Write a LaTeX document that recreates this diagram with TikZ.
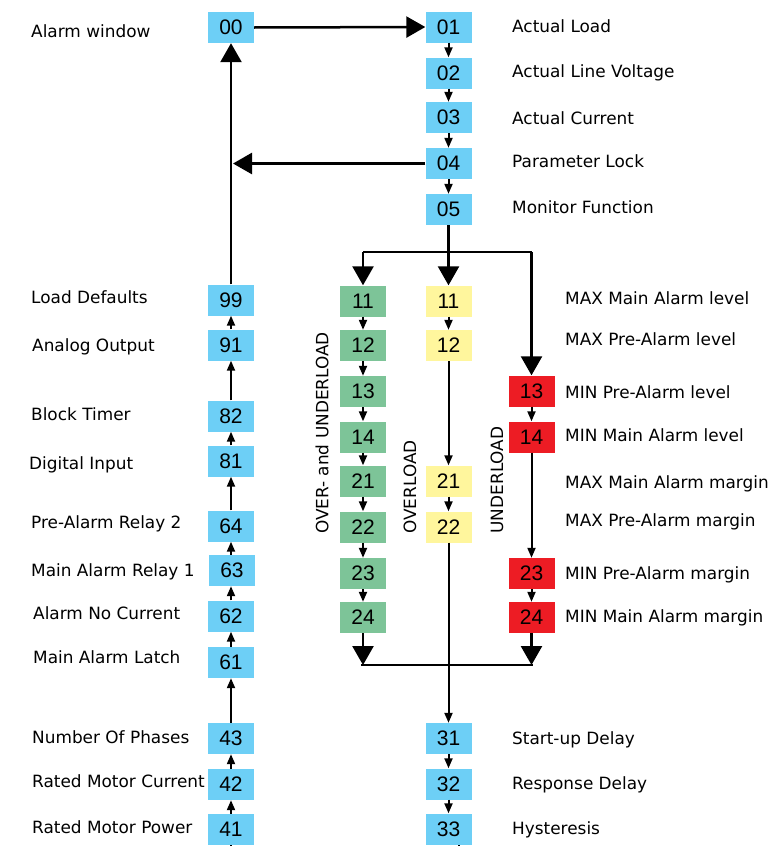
\documentclass[tikz,border=0pt]{standalone}
\usepackage{fontspec}
\setmainfont{DejaVu Sans}
\newfontfamily\numfont{Liberation Sans}
\usetikzlibrary{arrows.meta}
\definecolor{boxblue}{RGB}{109,207,246}
\definecolor{boxgreen}{RGB}{125,196,152}
\definecolor{boxyellow}{RGB}{255,246,157}
\definecolor{boxred}{RGB}{237,28,36}
\begin{document}
\begin{tikzpicture}[x=1pt,y=-1pt,
  box/.style={minimum width=46pt, minimum height=31pt, inner sep=0pt, font=\numfont\fontsize{21}{22}\selectfont},
  bb/.style={box, fill=boxblue},
  gb/.style={box, fill=boxgreen},
  yb/.style={box, fill=boxyellow},
  rb/.style={box, fill=boxred},
  lbl/.style={anchor=base west, inner sep=0pt, font=\fontsize{16.9}{20}\selectfont},
  vlbl/.style={rotate=90, inner sep=0pt, font=\fontsize{16.9}{20}\selectfont},
  small/.style={line width=2pt, -{Triangle[width=8pt,length=10pt]}},
  big/.style={line width=2.5pt, -{Triangle[width=21pt,length=19pt]}},
  ln/.style={line width=2.5pt}]
\useasboundingbox (0,0) rectangle (779,846);

% left column
\node[bb] (n00) at (231,27.5) {00};
\node[bb] (n99) at (231,300) {99};
\node[bb] (n91) at (231,345) {91};
\node[bb] (n82) at (231,416) {82};
\node[bb] (n81) at (231,461) {81};
\node[bb] (n64) at (231,526) {64};
\node[bb] (n63) at (232,570.5) {63};
\node[bb] (n62) at (231,616) {62};
\node[bb] (n61) at (231,662.5) {61};
\node[bb] (n43) at (231,738.5) {43};
\node[bb] (n42) at (231,784.5) {42};
\node[bb] (n41) at (231,829.5) {41};

% right blue column
\node[bb] (n01) at (448.5,27) {01};
\node[bb] (n02) at (448.5,73) {02};
\node[bb] (n03) at (448.5,117.5) {03};
\node[bb] (n04) at (448.5,163.5) {04};
\node[bb] (n05) at (448.5,209.5) {05};
\node[bb] (n31) at (448.5,738.5) {31};
\node[bb] (n32) at (448.5,784) {32};
\node[bb] (n33) at (448.5,829) {33};

% green
\node[gb] (g11) at (363,301) {11};
\node[gb] (g12) at (363,345.5) {12};
\node[gb] (g13) at (363,391.5) {13};
\node[gb] (g14) at (363,437) {14};
\node[gb] (g21) at (363,481) {21};
\node[gb] (g22) at (363,527) {22};
\node[gb] (g23) at (363,573.5) {23};
\node[gb] (g24) at (363,617.5) {24};

% yellow
\node[yb] (y11) at (448.5,301) {11};
\node[yb] (y12) at (448.5,345.5) {12};
\node[yb] (y21) at (448.5,481) {21};
\node[yb] (y22) at (448.5,527) {22};

% red
\node[rb] (r13) at (531.5,391) {13};
\node[rb] (r14) at (531.5,437) {14};
\node[rb] (r23) at (531.5,573.5) {23};
\node[rb] (r24) at (531.5,617.5) {24};

% coordinates
\coordinate (c04) at (233,163.5);
\coordinate (sp) at (448.5,252);
\coordinate (sg) at (363,252);
\coordinate (sr) at (531.5,252);
\coordinate (mg) at (363,665);
\coordinate (mr) at (531.5,665);
\coordinate (mgl) at (361,665);
\coordinate (mrr) at (532.5,665);
\coordinate (b41) at (231,846);
\coordinate (t33) at (459,845);
\coordinate (b33) at (459,846);

% big connectors
\draw[big] (n00.east) -- (n01.west);
\draw[big] (n99.north) -- (n00.south);
\draw[big] (n04.west) -- (c04);
\draw[ln] (n05.south) -- (sp);
\draw[ln] (sg) -- (sr);
\draw[big] (sg) -- (g11.north);
\draw[big] (sp) -- (y11.north);
\draw[big] (sr) -- (r13.north);
\draw[big] (g24.south) -- (mg);
\draw[big] (r24.south) -- (mr);
\draw[ln] (mgl) -- (mrr);

% small connectors, left column (upwards)
\draw[small] (n91) -- (n99);
\draw[small] (n82) -- (n91);
\draw[small] (n81) -- (n82);
\draw[small] (n64) -- (n81);
\draw[small] (n63.north -| n64) -- (n64);
\draw[small] (n62) -- (n63.south -| n62);
\draw[small] (n61) -- (n62);
\draw[small] (n43) -- (n61);
\draw[small] (n42) -- (n43);
\draw[small] (n41) -- (n42);
\draw[line width=2pt] (n41.south) -- (b41);

% small connectors, right
\draw[small] (n01) -- (n02);
\draw[small] (n02) -- (n03);
\draw[small] (n03) -- (n04);
\draw[small] (n04) -- (n05);
\draw[small] (n31) -- (n32);
\draw[small] (n32) -- (n33);
\draw[line width=2pt] (t33) -- (b33);

\draw[small] (g11) -- (g12);
\draw[small] (g12) -- (g13);
\draw[small] (g13) -- (g14);
\draw[small] (g14) -- (g21);
\draw[small] (g21) -- (g22);
\draw[small] (g22) -- (g23);
\draw[small] (g23) -- (g24);

\draw[small] (y11) -- (y12);
\draw[small] (y12) -- (y21);
\draw[small] (y21) -- (y22);
\draw[small] (y22) -- (n31);

\draw[small] (r13) -- (r14);
\draw[small] (r14) -- (r23);
\draw[small] (r23) -- (r24);

% left labels
\node[lbl] (lAW) at (31,37) {Alarm window};
\node[lbl] (lLD) at (31,303) {Load Defaults};
\node[lbl] (lAO) at (32,351) {Analog Output};
\node[lbl] (lBT) at (31,420) {Block Timer};
\node[lbl] (lDI) at (29,469) {Digital Input};
\node[lbl] (lPR) at (31,528) {Pre-Alarm Relay 2};
\node[lbl] (lMR) at (31,576) {Main Alarm Relay 1};
\node[lbl] (lNC) at (33,619) {Alarm No Current};
\node[lbl] (lML) at (33,663) {Main Alarm Latch};
\node[lbl] (lNP) at (32,743) {Number Of Phases};
\node[lbl] (lRC) at (32,787) {Rated Motor Current};
\node[lbl] (lRP) at (32,833) {Rated Motor Power};

% right labels
\node[lbl] (lAL) at (512,32) {Actual Load};
\node[lbl] (lLV) at (512,77) {Actual Line Voltage};
\node[lbl] (lAC) at (512,124) {Actual Current};
\node[lbl] (lPL) at (512,167) {Parameter Lock};
\node[lbl] (lMF) at (512,213) {Monitor Function};
\node[lbl] (lSD) at (512,744) {Start-up Delay};
\node[lbl] (lRD) at (512,789) {Response Delay};
\node[lbl] (lHY) at (512,834) {Hysteresis};

\node[lbl] (m1) at (565,304) {MAX Main Alarm level};
\node[lbl] (m2) at (565,345.7) {MAX Pre-Alarm level};
\node[lbl] (m3) at (565,398) {MIN Pre-Alarm level};
\node[lbl] (m4) at (565,441) {MIN Main Alarm level};
\node[lbl] (m5) at (565,488) {MAX Main Alarm margin};
\node[lbl] (m6) at (565,526) {MAX Pre-Alarm margin};
\node[lbl] (m7) at (565,579) {MIN Pre-Alarm margin};
\node[lbl] (m8) at (565,622) {MIN Main Alarm margin};

% vertical labels
\node[vlbl] (vOU) at (322,433) {OVER- and UNDERLOAD};
\node[vlbl] (vO) at (410,487) {OVERLOAD};
\node[vlbl] (vU) at (497,480) {UNDERLOAD};
\end{tikzpicture}
\end{document}
